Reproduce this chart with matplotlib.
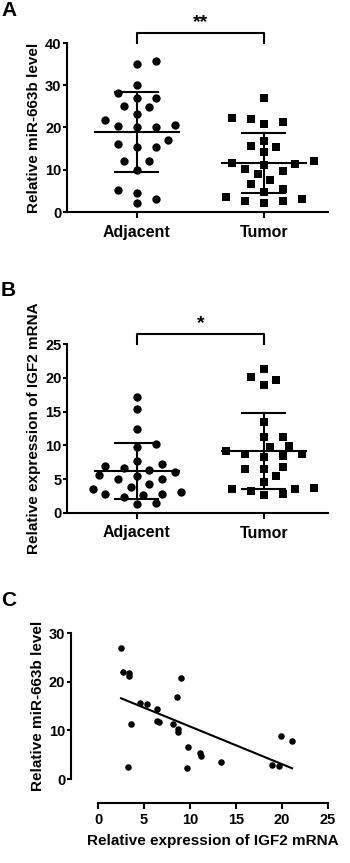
import numpy as np
import matplotlib
matplotlib.use("Agg")
import matplotlib.pyplot as plt

plt.rcParams['font.family'] = ['Liberation Sans', 'DejaVu Sans']
plt.rcParams['font.weight'] = 'bold'

# panel A: miR-663b level
groups = ["Adjacent", "Tumor"]
mir_adjacent = [35.0, 35.8, 30.0, 28.1, 27.1, 27.1, 23.2, 24.8, 25.1, 21.8, 20.5, 20.2, 20.2,
                20.3, 16.2, 15.3, 15.3, 17.1, 12.0, 12.0, 10.0, 4.6, 5.1, 2.1, 3.1]
mir_tumor = [26.9, 22.2, 21.3, 20.8, 21.9, 16.9, 15.5, 15.7, 14.3, 11.4, 12.0, 11.2, 11.7,
             10.1, 8.9, 9.6, 7.6, 6.7, 5.5, 4.7, 3.5, 2.6, 2.1, 2.6, 3.0]

# panel B: IGF2 mRNA
igf2_adjacent = [17.1, 15.4, 12.4, 9.7, 10.2, 7.7, 7.2, 6.7, 6.0, 5.5, 5.0, 5.1, 5.6, 6.4,
                 6.9, 4.3, 3.5, 3.9, 3.1, 2.7, 2.8, 2.8, 2.3, 1.3, 1.5]
igf2_tumor = [21.3, 20.1, 19.7, 18.9, 13.4, 11.2, 11.3, 9.9, 9.7, 9.2, 8.3, 8.8, 8.4, 8.8,
              6.5, 6.5, 6.8, 5.5, 4.6, 3.6, 3.3, 2.6, 2.8, 3.5, 3.7]

# panel C: correlation
corr_igf2 = [2.5, 2.75, 3.4, 3.37, 9.02, 8.55, 4.57, 5.36, 6.38, 6.38, 6.67, 3.59, 8.19,
             8.73, 8.73, 9.82, 11.09, 11.2, 13.37, 19.93, 21.1, 18.9, 19.67, 9.63, 3.23]
corr_mir = [26.9, 22.05, 21.8, 21.2, 20.7, 16.9, 15.55, 15.4, 14.4, 12.0, 11.7, 11.2, 11.4,
            10.2, 9.6, 6.6, 5.4, 4.7, 3.5, 8.8, 7.8, 2.9, 2.7, 2.3, 2.5]

W, H = 350, 863
fig = plt.figure(figsize=(W / 100, H / 100), dpi=100)


def ax_rect(l, t, r, b):
    return [l / W, (H - b) / H, (r - l) / W, (b - t) / H]


def swarm(vals, ypu, xpu, diam):
    # beeswarm in pixel space, rows spread wide like prism column scatter
    vals = np.asarray(vals)
    order = np.argsort(vals)
    step = 6.3
    cands = sorted([k * step for k in range(-12, 13)], key=lambda c: (abs(c), -c))
    placed = []
    offs = np.zeros(len(vals))
    for i in order:
        y = vals[i] * ypu
        for c in cands:
            if all(np.hypot((c - px) / 1.5, y - py) >= diam for px, py in placed):
                break
        placed.append((c, y))
        offs[i] = c / xpu
    return offs


def dot_panel(ax, data, markers, ymax, ystep, ylabel, top_px, bot_px, star):
    ypu = (bot_px - top_px) / ymax
    xpu = 127.0
    for k, (vals, m) in enumerate(zip(data, markers)):
        offs = swarm(vals, ypu, xpu, 9.5)
        ax.scatter(k + offs, vals, marker=m, s=36 if m == 'o' else 28, color='black',
                   linewidths=0, zorder=3, clip_on=False)
        mu = np.mean(vals)
        sd = np.std(vals, ddof=1)
        ax.plot([k - 0.33, k + 0.33], [mu, mu], color='black', lw=1.5, zorder=2)
        ax.plot([k - 0.17, k + 0.17], [mu + sd, mu + sd], color='black', lw=1.5, zorder=2)
        ax.plot([k - 0.17, k + 0.17], [mu - sd, mu - sd], color='black', lw=1.5, zorder=2)
        ax.plot([k, k], [mu - sd, mu + sd], color='black', lw=1.5, zorder=2)
    ax.set_xlim(-0.55, 1.505)
    ax.set_ylim(0, ymax)
    ax.set_yticks(np.arange(0, ymax + 0.1, ystep))
    ax.set_xticks([0, 1])
    ax.set_xticklabels(groups)
    ax.set_ylabel(ylabel, fontsize=11, fontweight='bold', labelpad=3)
    for s in ['top', 'right']:
        ax.spines[s].set_visible(False)
    for s in ['left', 'bottom']:
        ax.spines[s].set_linewidth(1.5)
    ax.tick_params(axis='y', length=3, width=1.5, pad=1, labelsize=10.5)
    ax.tick_params(axis='x', length=4, width=1.5, pad=5, labelsize=11.5)
    # significance bracket
    tr = ax.get_xaxis_transform()
    yb = 1 + 10 / (bot_px - top_px)
    ax.plot([0, 0, 1, 1], [1.0, yb, yb, 1.0], color='black', lw=1.5, transform=tr, clip_on=False)
    ax.text(0.5, yb + 0.01, star, transform=tr, ha='center', va='bottom', fontsize=14,
            fontweight='bold')


axA = fig.add_axes(ax_rect(67, 43, 328, 212))
dot_panel(axA, [mir_adjacent, mir_tumor], ['o', 's'], 40, 10, "Relative miR-663b level",
          43, 212, "**")

axB = fig.add_axes(ax_rect(67, 344, 328, 513))
dot_panel(axB, [igf2_adjacent, igf2_tumor], ['o', 's'], 25, 5,
          "Relative expression of IGF2 mRNA", 344, 513, "*")

axC = fig.add_axes(ax_rect(98, 633, 328, 779))
axC.scatter(corr_igf2, corr_mir, s=22, color='black', linewidths=0, zorder=3, clip_on=False)
slope, icpt = np.polyfit(corr_igf2, corr_mir, 1)
xl = np.array([min(corr_igf2), max(corr_igf2)])
axC.plot(xl, slope * xl + icpt, color='black', lw=1.5)
axC.set_xlim(0, 25)
axC.set_ylim(0, 30)
axC.set_xticks(np.arange(0, 26, 5))
axC.set_yticks(np.arange(0, 31, 10))
for s in ['top', 'right']:
    axC.spines[s].set_visible(False)
axC.spines['left'].set_position(('outward', 19.5))
axC.spines['bottom'].set_position(('outward', 17.3))
for s in ['left', 'bottom']:
    axC.spines[s].set_linewidth(1.5)
axC.tick_params(axis='y', length=3, width=1.5, pad=1, labelsize=10.5)
axC.tick_params(axis='x', length=4, width=1.5, pad=3, labelsize=10.5)
axC.set_ylabel("Relative miR-663b level", fontsize=11, fontweight='bold', labelpad=3)
axC.set_xlabel("Relative expression of IGF2 mRNA", fontsize=11, fontweight='bold', labelpad=5)

for lab, y in [("A", 10), ("B", 290), ("C", 600)]:
    fig.text(1 / W, 1 - y / H, lab, fontsize=15, fontweight='bold', va='center', ha='left')

fig.savefig("out.png", dpi=100)
